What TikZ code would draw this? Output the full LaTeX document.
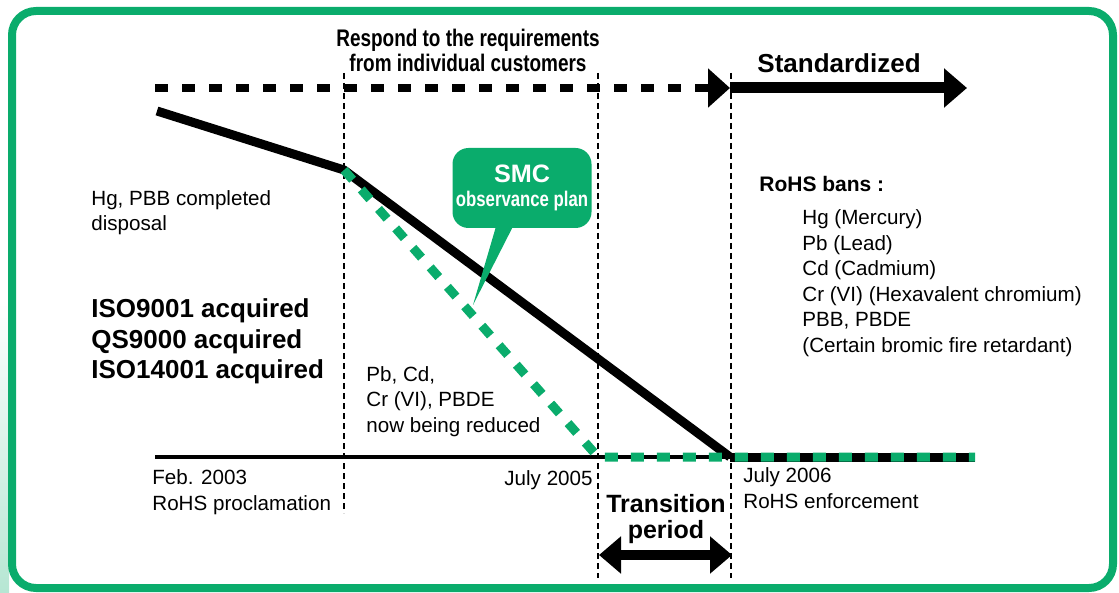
\documentclass[tikz,border=0pt]{standalone}
\usepackage{fontspec}
\setmainfont{Liberation Sans}
\newfontfamily\condfont[FakeStretch=0.79]{Liberation Sans}
\usetikzlibrary{arrows.meta,calc}
\definecolor{smcgreen}{RGB}{10,172,108}
\tikzset{
  note/.style={
    anchor=base west,
    inner sep=0pt,
    align=left,
    font=\fontsize{10.3}{12.6}\selectfont
    },
  heading/.style={
    inner sep=0pt,
    align=center,
    font=\fontsize{13}{15.25}\selectfont\bfseries
    },
  period/.style={
    line width=0.9pt,
    dash pattern=on 2.8pt off 2.2pt
    },
  custline/.style={
    line width=4pt,
    dash pattern=on 6.5pt off 7pt,
    -{Triangle[length=11pt,width=19pt]}
    },
  stdarrow/.style={
    line width=5.5pt,
    -{Triangle[length=11.5pt,width=19pt]}
    },
  trend/.style={
    line width=4.5pt,
    line join=round
    },
  plan/.style={
    smcgreen,
    line width=4.5pt,
    dash pattern=on 6.5pt off 6.5pt
    },
  callout/.style={
    rectangle,
    rounded corners=8pt,
    minimum width=69.5pt,
    minimum height=40pt,
    align=center,
    fill=smcgreen,
    text=white,
    inner sep=0pt
    },
}

\begin{document}
\begin{tikzpicture}[x=0.5pt,y=-0.5pt]
\useasboundingbox (0,0) rectangle (1119,593);
% frame
\shade[top color=white,bottom color=smcgreen!30] (0,300) rectangle (9,593);
\draw[smcgreen,line width=4pt,rounded corners=12pt] (12,11) rectangle (1113,588);

% points of the curves
\coordinate (t0) at (157,111);
\coordinate (t1) at (344,170);
\coordinate (t2) at (730,457);
\coordinate (g1) at (598,457);
\coordinate (axisL) at (155,457);
\coordinate (axisR) at (975,457);
\coordinate (custL) at (155,88);
\coordinate (custR) at (730,88);
\coordinate (stdR) at (967,88);
\coordinate (transL) at (599,555);
\coordinate (transR) at (732,555);

% time markers
\draw[period] (344,73) -- (344,513);
\draw[period] (598,73) -- (598,578);
\draw[period] (731,73) -- (731,578);

\draw[custline] (custL) -- (custR);
\draw[stdarrow] (custR) -- (stdR);
\draw[line width=5pt,{Triangle[length=11pt,width=18pt]}-{Triangle[length=11pt,width=18pt]}] (transL) -- (transR);

\draw[line width=1.8pt] (axisL) -- (t2);
\draw[line width=4.5pt] (t2) -- (axisR);
\draw[trend] (t0) -- (t1) -- (t2);
\draw[plan] (t1) -- (g1) -- (axisR);

% SMC balloon
\node (smc) [callout] at (522,188) {{\fontsize{12.6}{12.6}\selectfont\bfseries SMC}\\[0pt]{\condfont\fontsize{10.6}{11}\selectfont\bfseries observance plan}};
\coordinate (smctip) at (473,305);
\fill[smcgreen] ($(smc.south)+(-26,-2)$) -- (smctip) -- ($(smc.south)+(-9,-2)$) -- cycle;

% texts (base = last line)
\node (cust) [heading,anchor=base,font=\condfont\fontsize{12}{12.5}\selectfont\bfseries] at (468,72) {Respond to the requirements\\from individual customers};
\node (std) [heading,anchor=base west] at (757,73) {Standardized};
\node (trans) [heading,anchor=base,font=\fontsize{12.5}{13}\selectfont\bfseries] at (666,538) {Transition\\period};
\node (iso) [heading,anchor=base west,align=left] at (91,379) {ISO9001 acquired\\QS9000 acquired\\ISO14001 acquired};
\node (hg) [note] at (91,231) {Hg, PBB completed\\disposal};
\node (pb) [note] at (366,432) {Pb, Cd,\\Cr (VI), PBDE\\now being reduced};
\node (feb) [note] at (152,510) {Feb. 2003\\RoHS proclamation};
\node (jul5) [note,anchor=base east] at (593,485) {July 2005};
\node (jul6) [note] at (743,508) {July 2006\\RoHS enforcement};
\node (bans) [note,font=\fontsize{10.5}{12.6}\selectfont\bfseries] at (759,192) {RoHS bans :};
\node (banlist) [note,font=\fontsize{10.3}{12.75}\selectfont] at (802,352) {Hg (Mercury)\\Pb (Lead)\\Cd (Cadmium)\\Cr (VI) (Hexavalent chromium)\\PBB, PBDE\\(Certain bromic fire retardant)};
\end{tikzpicture}
\end{document}
